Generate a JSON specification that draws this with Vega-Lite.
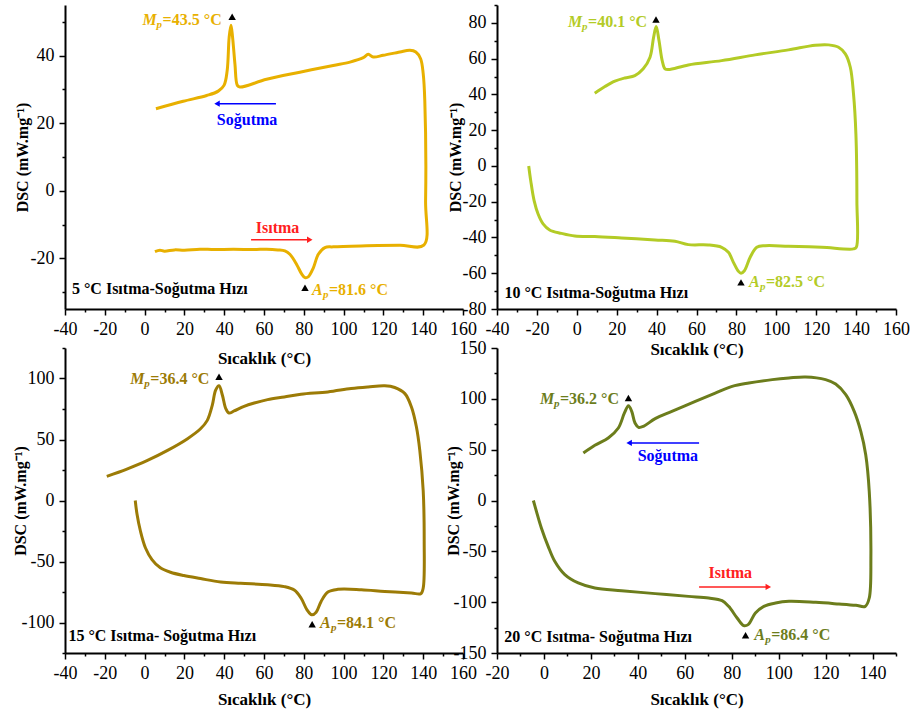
{
"$schema": "https://vega.github.io/schema/vega-lite/v6.json",
"background": "white",
"padding": {"left": 12, "top": 4, "right": 5, "bottom": 5},
"config": {
 "view": {"stroke": null},
 "axis": {"domainColor": "black", "domainWidth": 2, "tickColor": "black", "tickWidth": 1.5, "tickSize": 6, "labelFont": "Liberation Serif", "labelFontSize": 18, "labelColor": "black", "labelPadding": 5, "titleFont": "Liberation Serif", "titleFontWeight": "bold", "titleColor": "black", "grid": false, "labelFlush": false, "labelOverlap": false, "titleBaseline": "middle"},
 "axisX": {"titleFontSize": 17},
 "axisY": {"titleFontSize": 16},
 "text": {"font": "Liberation Serif"},
 "line": {"interpolate": "catmull-rom"}
},
"datasets": {
 "c1": [
  {"i":0,"t":5.2,"dsc":-18.0},{"i":1,"t":7.7,"dsc":-17.6},{"i":2,"t":10,"dsc":-17.9},{"i":3,"t":15,"dsc":-17.5},{"i":4,"t":20,"dsc":-17.6},{"i":5,"t":27.8,"dsc":-17.3},{"i":6,"t":35,"dsc":-17.4},{"i":7,"t":44.6,"dsc":-17.3},{"i":8,"t":55,"dsc":-17.4},{"i":9,"t":61.3,"dsc":-17.3},{"i":10,"t":67,"dsc":-17.5},{"i":11,"t":70.5,"dsc":-17.8},{"i":12,"t":73,"dsc":-18.8},{"i":13,"t":76.4,"dsc":-21.8},{"i":14,"t":78.9,"dsc":-24.6},{"i":15,"t":80.6,"dsc":-25.7},{"i":16,"t":82.2,"dsc":-25.5},{"i":17,"t":84.8,"dsc":-22.8},{"i":18,"t":87.3,"dsc":-18.8},{"i":19,"t":90.6,"dsc":-16.8},{"i":20,"t":94.8,"dsc":-16.6},{"i":21,"t":111.5,"dsc":-16.3},{"i":22,"t":128.3,"dsc":-16.1},{"i":23,"t":140.3,"dsc":-16.1},{"i":24,"t":141.2,"dsc":-3},{"i":25,"t":140.8,"dsc":26.7},{"i":26,"t":140,"dsc":34.7},{"i":27,"t":138.7,"dsc":39.1},{"i":28,"t":136.3,"dsc":41.1},{"i":29,"t":133.3,"dsc":41.6},{"i":30,"t":128.3,"dsc":41.1},{"i":31,"t":119.9,"dsc":40.1},{"i":32,"t":114.9,"dsc":39.6},{"i":33,"t":112.4,"dsc":40.4},{"i":34,"t":109.9,"dsc":39.4},{"i":35,"t":103.2,"dsc":38.1},{"i":36,"t":94.8,"dsc":37.1},{"i":37,"t":78,"dsc":35.1},{"i":38,"t":61.3,"dsc":33},{"i":39,"t":47.9,"dsc":30.7},{"i":40,"t":46.6,"dsc":31.2},{"i":41,"t":45.4,"dsc":37.5},{"i":42,"t":44.2,"dsc":45.5},{"i":43,"t":43.4,"dsc":49},{"i":44,"t":42.5,"dsc":45.5},{"i":45,"t":41.5,"dsc":35.6},{"i":46,"t":39.9,"dsc":31.2},{"i":47,"t":37,"dsc":29.5},{"i":48,"t":31.2,"dsc":28.2},{"i":49,"t":19.4,"dsc":26.5},{"i":50,"t":5.7,"dsc":24.3}
 ],
 "c2": [
  {"i":0,"t":-24.1,"dsc":0},{"i":1,"t":-23.1,"dsc":-8.2},{"i":2,"t":-21.4,"dsc":-19.4},{"i":3,"t":-19.4,"dsc":-26.9},{"i":4,"t":-16.9,"dsc":-32.4},{"i":5,"t":-13.6,"dsc":-35.8},{"i":6,"t":-7.7,"dsc":-37.7},{"i":7,"t":-1,"dsc":-39.2},{"i":8,"t":9,"dsc":-39.5},{"i":9,"t":22.4,"dsc":-40.3},{"i":10,"t":39.2,"dsc":-41.4},{"i":11,"t":49.2,"dsc":-42.1},{"i":12,"t":55.9,"dsc":-44},{"i":13,"t":65.9,"dsc":-44.2},{"i":14,"t":72.6,"dsc":-45.5},{"i":15,"t":76,"dsc":-48.3},{"i":16,"t":78.5,"dsc":-53.9},{"i":17,"t":81,"dsc":-58.9},{"i":18,"t":82.3,"dsc":-60},{"i":19,"t":84,"dsc":-58.6},{"i":20,"t":86.9,"dsc":-51.1},{"i":21,"t":90.2,"dsc":-45.5},{"i":22,"t":94.4,"dsc":-44.6},{"i":23,"t":106.1,"dsc":-44.9},{"i":24,"t":122.8,"dsc":-45.5},{"i":25,"t":138.7,"dsc":-46.4},{"i":26,"t":140.1,"dsc":-45.5},{"i":27,"t":140.4,"dsc":-19.4},{"i":28,"t":139.9,"dsc":17.9},{"i":29,"t":138.7,"dsc":40.3},{"i":30,"t":137.1,"dsc":55.2},{"i":31,"t":134.6,"dsc":62.7},{"i":32,"t":131.2,"dsc":66.4},{"i":33,"t":126.2,"dsc":67.7},{"i":34,"t":119.5,"dsc":67.5},{"i":35,"t":106.1,"dsc":64.9},{"i":36,"t":89.4,"dsc":62.1},{"i":37,"t":72.6,"dsc":58.9},{"i":38,"t":55.9,"dsc":56.5},{"i":39,"t":45.9,"dsc":53.9},{"i":40,"t":44.2,"dsc":54.3},{"i":41,"t":42.8,"dsc":58.9},{"i":42,"t":41.2,"dsc":70.1},{"i":43,"t":39.8,"dsc":78},{"i":44,"t":38.5,"dsc":72},{"i":45,"t":36.7,"dsc":60.8},{"i":46,"t":33.3,"dsc":54.3},{"i":47,"t":29.1,"dsc":50.5},{"i":48,"t":24.1,"dsc":49.2},{"i":49,"t":19.1,"dsc":47.4},{"i":50,"t":14.1,"dsc":44.4},{"i":51,"t":9,"dsc":40.7}
 ],
 "c3": [
  {"i":0,"t":-4.7,"dsc":0},{"i":1,"t":-3.8,"dsc":-11.3},{"i":2,"t":-2.1,"dsc":-25},{"i":3,"t":0.4,"dsc":-38.7},{"i":4,"t":3.7,"dsc":-48.4},{"i":5,"t":7.9,"dsc":-55.2},{"i":6,"t":13,"dsc":-58.8},{"i":7,"t":19.7,"dsc":-61.5},{"i":8,"t":28.1,"dsc":-64},{"i":9,"t":38.2,"dsc":-66.8},{"i":10,"t":48.3,"dsc":-67.9},{"i":11,"t":61.8,"dsc":-69},{"i":12,"t":70.2,"dsc":-70.6},{"i":13,"t":75.2,"dsc":-73.4},{"i":14,"t":78.6,"dsc":-79.9},{"i":15,"t":81.6,"dsc":-89.6},{"i":16,"t":84,"dsc":-93.7},{"i":17,"t":86.2,"dsc":-91.5},{"i":18,"t":88.7,"dsc":-82.7},{"i":19,"t":92.1,"dsc":-75},{"i":20,"t":97.1,"dsc":-72.8},{"i":21,"t":108.9,"dsc":-73.1},{"i":22,"t":120.7,"dsc":-74.5},{"i":23,"t":134.1,"dsc":-75.8},{"i":24,"t":138.8,"dsc":-76.4},{"i":25,"t":140,"dsc":-71.7},{"i":26,"t":140.5,"dsc":-33.2},{"i":27,"t":140,"dsc":8},{"i":28,"t":138.3,"dsc":40.9},{"i":29,"t":136.6,"dsc":60.2},{"i":30,"t":134.1,"dsc":76.6},{"i":31,"t":130.8,"dsc":87.6},{"i":32,"t":125.7,"dsc":92.6},{"i":33,"t":120.7,"dsc":94},{"i":34,"t":112.3,"dsc":93.1},{"i":35,"t":103.8,"dsc":91.8},{"i":36,"t":92.1,"dsc":89},{"i":37,"t":78.6,"dsc":87.1},{"i":38,"t":70.2,"dsc":84.9},{"i":39,"t":61.8,"dsc":82.7},{"i":40,"t":55.1,"dsc":79.9},{"i":41,"t":50,"dsc":77.2},{"i":42,"t":45,"dsc":73.4},{"i":43,"t":42.4,"dsc":71.7},{"i":44,"t":40.8,"dsc":75.3},{"i":45,"t":39.1,"dsc":86.3},{"i":46,"t":37.4,"dsc":94},{"i":47,"t":35.7,"dsc":90.4},{"i":48,"t":34,"dsc":78},{"i":49,"t":31.5,"dsc":65.7},{"i":50,"t":28.1,"dsc":58.8},{"i":51,"t":21.4,"dsc":50.5},{"i":52,"t":11.3,"dsc":40.9},{"i":53,"t":1.2,"dsc":32.7},{"i":54,"t":-8.9,"dsc":25.8},{"i":55,"t":-19,"dsc":19.8}
 ],
 "c4": [
  {"i":0,"t":-4.5,"dsc":0},{"i":1,"t":-3.2,"dsc":-10.7},{"i":2,"t":-1.1,"dsc":-27},{"i":3,"t":1.8,"dsc":-45.1},{"i":4,"t":4.6,"dsc":-59.8},{"i":5,"t":8.9,"dsc":-72.9},{"i":6,"t":14.6,"dsc":-81.1},{"i":7,"t":21.7,"dsc":-86.1},{"i":8,"t":33.1,"dsc":-88.7},{"i":9,"t":47.4,"dsc":-91.6},{"i":10,"t":61.6,"dsc":-94.3},{"i":11,"t":70.2,"dsc":-95.9},{"i":12,"t":75.9,"dsc":-98.5},{"i":13,"t":78.7,"dsc":-104.1},{"i":14,"t":82.3,"dsc":-115.6},{"i":15,"t":85.1,"dsc":-123.1},{"i":16,"t":87,"dsc":-122.1},{"i":17,"t":90.1,"dsc":-110.7},{"i":18,"t":93.7,"dsc":-104.1},{"i":19,"t":98.7,"dsc":-100.8},{"i":20,"t":104.4,"dsc":-99.2},{"i":21,"t":115.8,"dsc":-100.2},{"i":22,"t":125.7,"dsc":-101.8},{"i":23,"t":132.9,"dsc":-103.1},{"i":24,"t":136.9,"dsc":-104.1},{"i":25,"t":138.6,"dsc":-95.9},{"i":26,"t":139.3,"dsc":-56.6},{"i":27,"t":138.6,"dsc":9},{"i":28,"t":137.1,"dsc":45.1},{"i":29,"t":135,"dsc":68},{"i":30,"t":132.2,"dsc":87.7},{"i":31,"t":128.6,"dsc":104.1},{"i":32,"t":124.3,"dsc":114.6},{"i":33,"t":120,"dsc":118.9},{"i":34,"t":111.5,"dsc":121.5},{"i":35,"t":104.4,"dsc":120.5},{"i":36,"t":97.3,"dsc":118.9},{"i":37,"t":87.3,"dsc":115.6},{"i":38,"t":80.2,"dsc":112.3},{"i":39,"t":73,"dsc":105.7},{"i":40,"t":64.5,"dsc":97.5},{"i":41,"t":54.5,"dsc":87.7},{"i":42,"t":47.4,"dsc":80.5},{"i":43,"t":42.4,"dsc":73},{"i":44,"t":40.3,"dsc":72},{"i":45,"t":38.8,"dsc":76.2},{"i":46,"t":37.4,"dsc":87.7},{"i":47,"t":36,"dsc":93.3},{"i":48,"t":34.3,"dsc":86.1},{"i":49,"t":31.7,"dsc":71.3},{"i":50,"t":27.4,"dsc":61.5},{"i":51,"t":21.7,"dsc":54.3},{"i":52,"t":16.8,"dsc":46.7}
 ],
 "notes": [
  {"panel":1,"kind":"tri","t":44,"dsc":51.5},{"panel":1,"kind":"tri","t":80.6,"dsc":-28.7},
  {"panel":1,"kind":"M","t":-1.0,"dsc":50.7,"text":"=43.5 °C"},{"panel":1,"kind":"A","t":84.1,"dsc":-29.4,"text":"=81.6 °C"},
  {"panel":1,"kind":"corner","t":-36.5,"dsc":-29,"text":"5 °C  Isıtma-Soğutma Hızı"},
  {"panel":1,"kind":"sog","t":51.5,"dsc":21,"text":"Soğutma"},{"panel":1,"kind":"isi","t":66.8,"dsc":-11.1,"text":"Isıtma"},
  {"panel":2,"kind":"tri","t":39.7,"dsc":81.9},{"panel":2,"kind":"tri","t":82.3,"dsc":-65.1},
  {"panel":2,"kind":"M","t":-4.4,"dsc":80.7,"text":"=40.1 °C"},{"panel":2,"kind":"A","t":86.3,"dsc":-64.9,"text":"=82.5 °C"},
  {"panel":2,"kind":"corner","t":-36.3,"dsc":-71.2,"text":"10 °C Isıtma-Soğutma Hızı"},
  {"panel":3,"kind":"tri","t":37.4,"dsc":101.4},{"panel":3,"kind":"tri","t":84.2,"dsc":-101.4},
  {"panel":3,"kind":"M","t":-7.2,"dsc":99.2,"text":"=36.4 °C"},{"panel":3,"kind":"A","t":88.1,"dsc":-100.8,"text":"=84.1 °C"},
  {"panel":3,"kind":"corner","t":-38.3,"dsc":-111,"text":"15 °C Isıtma- Soğutma Hızı"},
  {"panel":4,"kind":"tri","t":36,"dsc":100.8},{"panel":4,"kind":"tri","t":85.9,"dsc":-132.6},
  {"panel":4,"kind":"M","t":-1.7,"dsc":99.8,"text":"=36.2 °C"},{"panel":4,"kind":"A","t":89.6,"dsc":-132.3,"text":"=86.4 °C"},
  {"panel":4,"kind":"corner","t":-16.9,"dsc":-134.3,"text":"20 °C Isıtma- Soğutma Hızı"},
  {"panel":4,"kind":"sog","t":52.8,"dsc":43.8,"text":"Soğutma"},{"panel":4,"kind":"isi","t":79.4,"dsc":-71,"text":"Isıtma"}
 ],
 "arrows": [
  {"panel":1,"kind":"sog","t1":66,"t2":36.4,"dsc":25.8},{"panel":1,"kind":"isi","t1":53.5,"t2":83,"dsc":-14.5},
  {"panel":4,"kind":"sog","t1":66.1,"t2":36.3,"dsc":56.6},{"panel":4,"kind":"isi","t1":66.1,"t2":95.6,"dsc":-85}
 ]
},
"columns": 2,
"spacing": {"row": 39, "column": 34},
"bounds": "flush",
"concat": [
 {
  "width": 398, "height": 304,
  "resolve": {"axis": {"x": "independent", "y": "independent"}},
  "layer": [
   {"data": {"name": "c1"}, "mark": {"type": "line", "color": "#E8B000", "strokeWidth": 3, "strokeJoin": "round"},
    "encoding": {
     "x": {"field": "t", "type": "quantitative", "scale": {"domain": [-40, 160], "nice": false, "zero": false},
      "axis": {"orient": "bottom", "values": [-40,-20,0,20,40,60,80,100,120,140,160], "title": "Sıcaklık (°C)", "titleY": 49, "labelExpr": "'' + datum.value"}},
     "y": {"field": "dsc", "type": "quantitative", "scale": {"domain": [-35, 55], "nice": false, "zero": false},
      "axis": {"orient": "left", "values": [-20,0,20,40], "title": "DSC (mW.mg⁻¹)", "titleX": -43, "labelExpr": "'' + datum.value"}},
     "order": {"field": "i", "type": "quantitative"}}},
   {"data": {"name": "notes"}, "transform": [{"filter": "datum.panel == 1 && datum.kind == 'tri'"}],
    "mark": {"type": "point", "shape": "triangle-up", "filled": true, "color": "black", "size": 55, "opacity": 1},
    "encoding": {
     "x": {"field": "t", "type": "quantitative", "axis": {"orient": "bottom", "values": [-30,-10,10,30,50,70,90,110,130,150], "tickSize": 3, "labels": false, "domain": false, "title": null}},
     "y": {"field": "dsc", "type": "quantitative", "axis": {"orient": "left", "values": [-30,-10,10,30,50], "tickSize": 3, "labels": false, "domain": false, "title": null}}}},
   {"data": {"name": "notes"}, "transform": [{"filter": "datum.panel == 1 && datum.kind == 'M'"}],
    "mark": {"type": "text", "text": "M", "fontStyle": "italic", "fontWeight": "bold", "fontSize": 16, "align": "left", "baseline": "middle", "color": "#E8B000"},
    "encoding": {"x": {"field": "t", "type": "quantitative", "axis": null}, "y": {"field": "dsc", "type": "quantitative", "axis": null}}},
   {"data": {"name": "notes"}, "transform": [{"filter": "datum.panel == 1 && datum.kind == 'M'"}],
    "mark": {"type": "text", "text": "p", "fontStyle": "italic", "fontWeight": "bold", "fontSize": 11, "align": "left", "baseline": "middle", "dx": 14, "dy": 5, "color": "#E8B000"},
    "encoding": {"x": {"field": "t", "type": "quantitative", "axis": null}, "y": {"field": "dsc", "type": "quantitative", "axis": null}}},
   {"data": {"name": "notes"}, "transform": [{"filter": "datum.panel == 1 && datum.kind == 'M'"}],
    "mark": {"type": "text", "fontWeight": "bold", "fontSize": 16, "align": "left", "baseline": "middle", "dx": 20, "color": "#E8B000"},
    "encoding": {"x": {"field": "t", "type": "quantitative", "axis": null}, "y": {"field": "dsc", "type": "quantitative", "axis": null}, "text": {"field": "text"}}},
   {"data": {"name": "notes"}, "transform": [{"filter": "datum.panel == 1 && datum.kind == 'A'"}],
    "mark": {"type": "text", "text": "A", "fontStyle": "italic", "fontWeight": "bold", "fontSize": 16, "align": "left", "baseline": "middle", "color": "#E8B000"},
    "encoding": {"x": {"field": "t", "type": "quantitative", "axis": null}, "y": {"field": "dsc", "type": "quantitative", "axis": null}}},
   {"data": {"name": "notes"}, "transform": [{"filter": "datum.panel == 1 && datum.kind == 'A'"}],
    "mark": {"type": "text", "text": "p", "fontStyle": "italic", "fontWeight": "bold", "fontSize": 11, "align": "left", "baseline": "middle", "dx": 11, "dy": 5, "color": "#E8B000"},
    "encoding": {"x": {"field": "t", "type": "quantitative", "axis": null}, "y": {"field": "dsc", "type": "quantitative", "axis": null}}},
   {"data": {"name": "notes"}, "transform": [{"filter": "datum.panel == 1 && datum.kind == 'A'"}],
    "mark": {"type": "text", "fontWeight": "bold", "fontSize": 16, "align": "left", "baseline": "middle", "dx": 17, "color": "#E8B000"},
    "encoding": {"x": {"field": "t", "type": "quantitative", "axis": null}, "y": {"field": "dsc", "type": "quantitative", "axis": null}, "text": {"field": "text"}}},
   {"data": {"name": "notes"}, "transform": [{"filter": "datum.panel == 1 && datum.kind == 'corner'"}],
    "mark": {"type": "text", "fontWeight": "bold", "fontSize": 16, "align": "left", "baseline": "middle", "color": "black"},
    "encoding": {"x": {"field": "t", "type": "quantitative", "axis": null}, "y": {"field": "dsc", "type": "quantitative", "axis": null}, "text": {"field": "text"}}},
   {"data": {"name": "arrows"}, "transform": [{"filter": "datum.panel == 1 && datum.kind == 'sog'"}],
    "mark": {"type": "rule", "color": "#0000FF", "strokeWidth": 1.5},
    "encoding": {"x": {"field": "t1", "type": "quantitative", "axis": null}, "x2": {"field": "t2"}, "y": {"field": "dsc", "type": "quantitative", "axis": null}}},
   {"data": {"name": "arrows"}, "transform": [{"filter": "datum.panel == 1 && datum.kind == 'sog'"}],
    "mark": {"type": "point", "shape": "triangle-left", "filled": true, "color": "#0000FF", "size": 40, "opacity": 1},
    "encoding": {"x": {"field": "t2", "type": "quantitative", "axis": null}, "y": {"field": "dsc", "type": "quantitative", "axis": null}}},
   {"data": {"name": "notes"}, "transform": [{"filter": "datum.panel == 1 && datum.kind == 'sog'"}],
    "mark": {"type": "text", "fontWeight": "bold", "fontSize": 16, "align": "center", "baseline": "middle", "color": "#0000FF"},
    "encoding": {"x": {"field": "t", "type": "quantitative", "axis": null}, "y": {"field": "dsc", "type": "quantitative", "axis": null}, "text": {"field": "text"}}},
   {"data": {"name": "arrows"}, "transform": [{"filter": "datum.panel == 1 && datum.kind == 'isi'"}],
    "mark": {"type": "rule", "color": "#FF2020", "strokeWidth": 1.5},
    "encoding": {"x": {"field": "t1", "type": "quantitative", "axis": null}, "x2": {"field": "t2"}, "y": {"field": "dsc", "type": "quantitative", "axis": null}}},
   {"data": {"name": "arrows"}, "transform": [{"filter": "datum.panel == 1 && datum.kind == 'isi'"}],
    "mark": {"type": "point", "shape": "triangle-right", "filled": true, "color": "#FF2020", "size": 40, "opacity": 1},
    "encoding": {"x": {"field": "t2", "type": "quantitative", "axis": null}, "y": {"field": "dsc", "type": "quantitative", "axis": null}}},
   {"data": {"name": "notes"}, "transform": [{"filter": "datum.panel == 1 && datum.kind == 'isi'"}],
    "mark": {"type": "text", "fontWeight": "bold", "fontSize": 16, "align": "center", "baseline": "middle", "color": "#FF2020"},
    "encoding": {"x": {"field": "t", "type": "quantitative", "axis": null}, "y": {"field": "dsc", "type": "quantitative", "axis": null}, "text": {"field": "text"}}}
  ]
 },
 {
  "width": 399, "height": 304,
  "resolve": {"axis": {"x": "independent", "y": "independent"}},
  "layer": [
   {"data": {"name": "c2"}, "mark": {"type": "line", "color": "#B3CB26", "strokeWidth": 3, "strokeJoin": "round"},
    "encoding": {
     "x": {"field": "t", "type": "quantitative", "scale": {"domain": [-40, 160], "nice": false, "zero": false},
      "axis": {"orient": "bottom", "values": [-40,-20,0,20,40,60,80,100,120,140,160], "title": "Sıcaklık (°C)", "titleY": 40, "labelExpr": "'' + datum.value"}},
     "y": {"field": "dsc", "type": "quantitative", "scale": {"domain": [-80, 90], "nice": false, "zero": false},
      "axis": {"orient": "left", "values": [-80,-60,-40,-20,0,20,40,60,80], "title": "DSC (mW.mg⁻¹)", "titleX": -42, "labelExpr": "'' + datum.value"}},
     "order": {"field": "i", "type": "quantitative"}}},
   {"data": {"name": "notes"}, "transform": [{"filter": "datum.panel == 2 && datum.kind == 'tri'"}],
    "mark": {"type": "point", "shape": "triangle-up", "filled": true, "color": "black", "size": 55, "opacity": 1},
    "encoding": {
     "x": {"field": "t", "type": "quantitative", "axis": {"orient": "bottom", "values": [-30,-10,10,30,50,70,90,110,130,150], "tickSize": 3, "labels": false, "domain": false, "title": null}},
     "y": {"field": "dsc", "type": "quantitative", "axis": {"orient": "left", "values": [-70,-50,-30,-10,10,30,50,70,90], "tickSize": 3, "labels": false, "domain": false, "title": null}}}},
   {"data": {"name": "notes"}, "transform": [{"filter": "datum.panel == 2 && datum.kind == 'M'"}],
    "mark": {"type": "text", "text": "M", "fontStyle": "italic", "fontWeight": "bold", "fontSize": 16, "align": "left", "baseline": "middle", "color": "#B3CB26"},
    "encoding": {"x": {"field": "t", "type": "quantitative", "axis": null}, "y": {"field": "dsc", "type": "quantitative", "axis": null}}},
   {"data": {"name": "notes"}, "transform": [{"filter": "datum.panel == 2 && datum.kind == 'M'"}],
    "mark": {"type": "text", "text": "p", "fontStyle": "italic", "fontWeight": "bold", "fontSize": 11, "align": "left", "baseline": "middle", "dx": 14, "dy": 5, "color": "#B3CB26"},
    "encoding": {"x": {"field": "t", "type": "quantitative", "axis": null}, "y": {"field": "dsc", "type": "quantitative", "axis": null}}},
   {"data": {"name": "notes"}, "transform": [{"filter": "datum.panel == 2 && datum.kind == 'M'"}],
    "mark": {"type": "text", "fontWeight": "bold", "fontSize": 16, "align": "left", "baseline": "middle", "dx": 20, "color": "#B3CB26"},
    "encoding": {"x": {"field": "t", "type": "quantitative", "axis": null}, "y": {"field": "dsc", "type": "quantitative", "axis": null}, "text": {"field": "text"}}},
   {"data": {"name": "notes"}, "transform": [{"filter": "datum.panel == 2 && datum.kind == 'A'"}],
    "mark": {"type": "text", "text": "A", "fontStyle": "italic", "fontWeight": "bold", "fontSize": 16, "align": "left", "baseline": "middle", "color": "#B3CB26"},
    "encoding": {"x": {"field": "t", "type": "quantitative", "axis": null}, "y": {"field": "dsc", "type": "quantitative", "axis": null}}},
   {"data": {"name": "notes"}, "transform": [{"filter": "datum.panel == 2 && datum.kind == 'A'"}],
    "mark": {"type": "text", "text": "p", "fontStyle": "italic", "fontWeight": "bold", "fontSize": 11, "align": "left", "baseline": "middle", "dx": 11, "dy": 5, "color": "#B3CB26"},
    "encoding": {"x": {"field": "t", "type": "quantitative", "axis": null}, "y": {"field": "dsc", "type": "quantitative", "axis": null}}},
   {"data": {"name": "notes"}, "transform": [{"filter": "datum.panel == 2 && datum.kind == 'A'"}],
    "mark": {"type": "text", "fontWeight": "bold", "fontSize": 16, "align": "left", "baseline": "middle", "dx": 17, "color": "#B3CB26"},
    "encoding": {"x": {"field": "t", "type": "quantitative", "axis": null}, "y": {"field": "dsc", "type": "quantitative", "axis": null}, "text": {"field": "text"}}},
   {"data": {"name": "notes"}, "transform": [{"filter": "datum.panel == 2 && datum.kind == 'corner'"}],
    "mark": {"type": "text", "fontWeight": "bold", "fontSize": 16, "align": "left", "baseline": "middle", "color": "black"},
    "encoding": {"x": {"field": "t", "type": "quantitative", "axis": null}, "y": {"field": "dsc", "type": "quantitative", "axis": null}, "text": {"field": "text"}}}
  ]
 },
 {
  "width": 398, "height": 305,
  "resolve": {"axis": {"x": "independent", "y": "independent"}},
  "layer": [
   {"data": {"name": "c3"}, "mark": {"type": "line", "color": "#9C7B06", "strokeWidth": 3, "strokeJoin": "round"},
    "encoding": {
     "x": {"field": "t", "type": "quantitative", "scale": {"domain": [-40, 160], "nice": false, "zero": false},
      "axis": {"orient": "bottom", "values": [-40,-20,0,20,40,60,80,100,120,140,160], "title": "Sıcaklık (°C)", "titleY": 46, "labelExpr": "'' + datum.value"}},
     "y": {"field": "dsc", "type": "quantitative", "scale": {"domain": [-125, 125], "nice": false, "zero": false},
      "axis": {"orient": "left", "values": [-100,-50,0,50,100], "title": "DSC (mW.mg⁻¹)", "titleX": -45, "labelExpr": "'' + datum.value"}},
     "order": {"field": "i", "type": "quantitative"}}},
   {"data": {"name": "notes"}, "transform": [{"filter": "datum.panel == 3 && datum.kind == 'tri'"}],
    "mark": {"type": "point", "shape": "triangle-up", "filled": true, "color": "black", "size": 55, "opacity": 1},
    "encoding": {
     "x": {"field": "t", "type": "quantitative", "axis": {"orient": "bottom", "values": [-30,-10,10,30,50,70,90,110,130,150], "tickSize": 3, "labels": false, "domain": false, "title": null}},
     "y": {"field": "dsc", "type": "quantitative", "axis": {"orient": "left", "values": [-125,-75,-25,25,75,125], "tickSize": 3, "labels": false, "domain": false, "title": null}}}},
   {"data": {"name": "notes"}, "transform": [{"filter": "datum.panel == 3 && datum.kind == 'M'"}],
    "mark": {"type": "text", "text": "M", "fontStyle": "italic", "fontWeight": "bold", "fontSize": 16, "align": "left", "baseline": "middle", "color": "#9C7B06"},
    "encoding": {"x": {"field": "t", "type": "quantitative", "axis": null}, "y": {"field": "dsc", "type": "quantitative", "axis": null}}},
   {"data": {"name": "notes"}, "transform": [{"filter": "datum.panel == 3 && datum.kind == 'M'"}],
    "mark": {"type": "text", "text": "p", "fontStyle": "italic", "fontWeight": "bold", "fontSize": 11, "align": "left", "baseline": "middle", "dx": 14, "dy": 5, "color": "#9C7B06"},
    "encoding": {"x": {"field": "t", "type": "quantitative", "axis": null}, "y": {"field": "dsc", "type": "quantitative", "axis": null}}},
   {"data": {"name": "notes"}, "transform": [{"filter": "datum.panel == 3 && datum.kind == 'M'"}],
    "mark": {"type": "text", "fontWeight": "bold", "fontSize": 16, "align": "left", "baseline": "middle", "dx": 20, "color": "#9C7B06"},
    "encoding": {"x": {"field": "t", "type": "quantitative", "axis": null}, "y": {"field": "dsc", "type": "quantitative", "axis": null}, "text": {"field": "text"}}},
   {"data": {"name": "notes"}, "transform": [{"filter": "datum.panel == 3 && datum.kind == 'A'"}],
    "mark": {"type": "text", "text": "A", "fontStyle": "italic", "fontWeight": "bold", "fontSize": 16, "align": "left", "baseline": "middle", "color": "#9C7B06"},
    "encoding": {"x": {"field": "t", "type": "quantitative", "axis": null}, "y": {"field": "dsc", "type": "quantitative", "axis": null}}},
   {"data": {"name": "notes"}, "transform": [{"filter": "datum.panel == 3 && datum.kind == 'A'"}],
    "mark": {"type": "text", "text": "p", "fontStyle": "italic", "fontWeight": "bold", "fontSize": 11, "align": "left", "baseline": "middle", "dx": 11, "dy": 5, "color": "#9C7B06"},
    "encoding": {"x": {"field": "t", "type": "quantitative", "axis": null}, "y": {"field": "dsc", "type": "quantitative", "axis": null}}},
   {"data": {"name": "notes"}, "transform": [{"filter": "datum.panel == 3 && datum.kind == 'A'"}],
    "mark": {"type": "text", "fontWeight": "bold", "fontSize": 16, "align": "left", "baseline": "middle", "dx": 17, "color": "#9C7B06"},
    "encoding": {"x": {"field": "t", "type": "quantitative", "axis": null}, "y": {"field": "dsc", "type": "quantitative", "axis": null}, "text": {"field": "text"}}},
   {"data": {"name": "notes"}, "transform": [{"filter": "datum.panel == 3 && datum.kind == 'corner'"}],
    "mark": {"type": "text", "fontWeight": "bold", "fontSize": 16, "align": "left", "baseline": "middle", "color": "black"},
    "encoding": {"x": {"field": "t", "type": "quantitative", "axis": null}, "y": {"field": "dsc", "type": "quantitative", "axis": null}, "text": {"field": "text"}}}
  ]
 },
 {
  "width": 399, "height": 305,
  "resolve": {"axis": {"x": "independent", "y": "independent"}},
  "layer": [
   {"data": {"name": "c4"}, "mark": {"type": "line", "color": "#6C7D1C", "strokeWidth": 3, "strokeJoin": "round"},
    "encoding": {
     "x": {"field": "t", "type": "quantitative", "scale": {"domain": [-20, 150], "nice": false, "zero": false},
      "axis": {"orient": "bottom", "values": [-20,0,20,40,60,80,100,120,140], "title": "Sıcaklık (°C)", "titleY": 46, "labelExpr": "'' + datum.value"}},
     "y": {"field": "dsc", "type": "quantitative", "scale": {"domain": [-150, 150], "nice": false, "zero": false},
      "axis": {"orient": "left", "values": [-150,-100,-50,0,50,100,150], "title": "DSC (mW.mg⁻¹)", "titleX": -44, "labelExpr": "'' + datum.value"}},
     "order": {"field": "i", "type": "quantitative"}}},
   {"data": {"name": "notes"}, "transform": [{"filter": "datum.panel == 4 && datum.kind == 'tri'"}],
    "mark": {"type": "point", "shape": "triangle-up", "filled": true, "color": "black", "size": 55, "opacity": 1},
    "encoding": {
     "x": {"field": "t", "type": "quantitative", "axis": {"orient": "bottom", "values": [-10,10,30,50,70,90,110,130,150], "tickSize": 3, "labels": false, "domain": false, "title": null}},
     "y": {"field": "dsc", "type": "quantitative", "axis": {"orient": "left", "values": [-125,-75,-25,25,75,125], "tickSize": 3, "labels": false, "domain": false, "title": null}}}},
   {"data": {"name": "notes"}, "transform": [{"filter": "datum.panel == 4 && datum.kind == 'M'"}],
    "mark": {"type": "text", "text": "M", "fontStyle": "italic", "fontWeight": "bold", "fontSize": 16, "align": "left", "baseline": "middle", "color": "#6C7D1C"},
    "encoding": {"x": {"field": "t", "type": "quantitative", "axis": null}, "y": {"field": "dsc", "type": "quantitative", "axis": null}}},
   {"data": {"name": "notes"}, "transform": [{"filter": "datum.panel == 4 && datum.kind == 'M'"}],
    "mark": {"type": "text", "text": "p", "fontStyle": "italic", "fontWeight": "bold", "fontSize": 11, "align": "left", "baseline": "middle", "dx": 14, "dy": 5, "color": "#6C7D1C"},
    "encoding": {"x": {"field": "t", "type": "quantitative", "axis": null}, "y": {"field": "dsc", "type": "quantitative", "axis": null}}},
   {"data": {"name": "notes"}, "transform": [{"filter": "datum.panel == 4 && datum.kind == 'M'"}],
    "mark": {"type": "text", "fontWeight": "bold", "fontSize": 16, "align": "left", "baseline": "middle", "dx": 20, "color": "#6C7D1C"},
    "encoding": {"x": {"field": "t", "type": "quantitative", "axis": null}, "y": {"field": "dsc", "type": "quantitative", "axis": null}, "text": {"field": "text"}}},
   {"data": {"name": "notes"}, "transform": [{"filter": "datum.panel == 4 && datum.kind == 'A'"}],
    "mark": {"type": "text", "text": "A", "fontStyle": "italic", "fontWeight": "bold", "fontSize": 16, "align": "left", "baseline": "middle", "color": "#6C7D1C"},
    "encoding": {"x": {"field": "t", "type": "quantitative", "axis": null}, "y": {"field": "dsc", "type": "quantitative", "axis": null}}},
   {"data": {"name": "notes"}, "transform": [{"filter": "datum.panel == 4 && datum.kind == 'A'"}],
    "mark": {"type": "text", "text": "p", "fontStyle": "italic", "fontWeight": "bold", "fontSize": 11, "align": "left", "baseline": "middle", "dx": 11, "dy": 5, "color": "#6C7D1C"},
    "encoding": {"x": {"field": "t", "type": "quantitative", "axis": null}, "y": {"field": "dsc", "type": "quantitative", "axis": null}}},
   {"data": {"name": "notes"}, "transform": [{"filter": "datum.panel == 4 && datum.kind == 'A'"}],
    "mark": {"type": "text", "fontWeight": "bold", "fontSize": 16, "align": "left", "baseline": "middle", "dx": 17, "color": "#6C7D1C"},
    "encoding": {"x": {"field": "t", "type": "quantitative", "axis": null}, "y": {"field": "dsc", "type": "quantitative", "axis": null}, "text": {"field": "text"}}},
   {"data": {"name": "notes"}, "transform": [{"filter": "datum.panel == 4 && datum.kind == 'corner'"}],
    "mark": {"type": "text", "fontWeight": "bold", "fontSize": 16, "align": "left", "baseline": "middle", "color": "black"},
    "encoding": {"x": {"field": "t", "type": "quantitative", "axis": null}, "y": {"field": "dsc", "type": "quantitative", "axis": null}, "text": {"field": "text"}}},
   {"data": {"name": "arrows"}, "transform": [{"filter": "datum.panel == 4 && datum.kind == 'sog'"}],
    "mark": {"type": "rule", "color": "#0000FF", "strokeWidth": 1.5},
    "encoding": {"x": {"field": "t1", "type": "quantitative", "axis": null}, "x2": {"field": "t2"}, "y": {"field": "dsc", "type": "quantitative", "axis": null}}},
   {"data": {"name": "arrows"}, "transform": [{"filter": "datum.panel == 4 && datum.kind == 'sog'"}],
    "mark": {"type": "point", "shape": "triangle-left", "filled": true, "color": "#0000FF", "size": 40, "opacity": 1},
    "encoding": {"x": {"field": "t2", "type": "quantitative", "axis": null}, "y": {"field": "dsc", "type": "quantitative", "axis": null}}},
   {"data": {"name": "notes"}, "transform": [{"filter": "datum.panel == 4 && datum.kind == 'sog'"}],
    "mark": {"type": "text", "fontWeight": "bold", "fontSize": 16, "align": "center", "baseline": "middle", "color": "#0000FF"},
    "encoding": {"x": {"field": "t", "type": "quantitative", "axis": null}, "y": {"field": "dsc", "type": "quantitative", "axis": null}, "text": {"field": "text"}}},
   {"data": {"name": "arrows"}, "transform": [{"filter": "datum.panel == 4 && datum.kind == 'isi'"}],
    "mark": {"type": "rule", "color": "#FF2020", "strokeWidth": 1.5},
    "encoding": {"x": {"field": "t1", "type": "quantitative", "axis": null}, "x2": {"field": "t2"}, "y": {"field": "dsc", "type": "quantitative", "axis": null}}},
   {"data": {"name": "arrows"}, "transform": [{"filter": "datum.panel == 4 && datum.kind == 'isi'"}],
    "mark": {"type": "point", "shape": "triangle-right", "filled": true, "color": "#FF2020", "size": 40, "opacity": 1},
    "encoding": {"x": {"field": "t2", "type": "quantitative", "axis": null}, "y": {"field": "dsc", "type": "quantitative", "axis": null}}},
   {"data": {"name": "notes"}, "transform": [{"filter": "datum.panel == 4 && datum.kind == 'isi'"}],
    "mark": {"type": "text", "fontWeight": "bold", "fontSize": 16, "align": "center", "baseline": "middle", "color": "#FF2020"},
    "encoding": {"x": {"field": "t", "type": "quantitative", "axis": null}, "y": {"field": "dsc", "type": "quantitative", "axis": null}, "text": {"field": "text"}}}
  ]
 }
]
}
